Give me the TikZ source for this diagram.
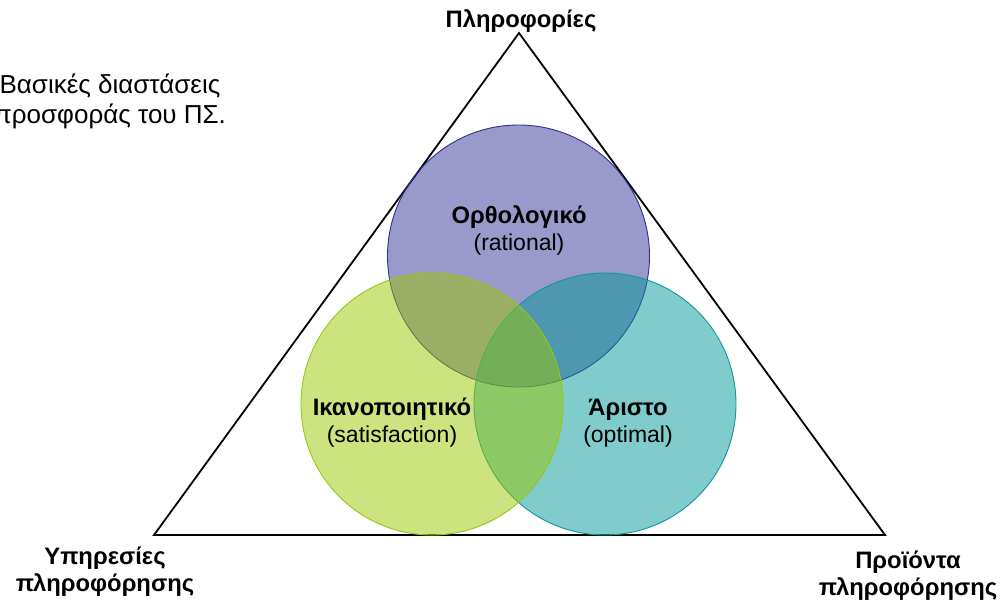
\documentclass[tikz,border=0pt]{standalone}
\usepackage{fontspec}
\setmainfont{Liberation Sans}
\begin{document}
\begin{tikzpicture}[x=1pt,y=-1pt,
  lbl/.style={inner sep=0pt,align=center,font=\fontsize{23}{27}\selectfont},
  head/.style={lbl,font=\fontsize{23.8}{27}\selectfont\bfseries},
  ring/.style={circle,minimum size=262pt,inner sep=0pt,fill opacity=0.5,line width=0.9pt},
  edge/.style={line width=1.8pt,line join=miter}]
\definecolor{purplefill}{RGB}{53,51,153}
\definecolor{purpleline}{RGB}{48,48,140}
\definecolor{tealfill}{RGB}{1,151,151}
\definecolor{tealline}{RGB}{20,150,160}
\definecolor{greenfill}{RGB}{155,199,1}
\definecolor{greenline}{RGB}{150,200,20}
\useasboundingbox (0,0) rectangle (1003,608);

% outer triangle
\coordinate (apex) at (519,33);
\coordinate (bl) at (154,535);
\coordinate (br) at (885,535);
\draw[edge] (apex) -- (bl) -- (br) -- cycle;

% three overlapping circles
\node[ring,fill=purplefill,draw=purpleline] (rational) at (518.5,256) {};
\node[ring,fill=tealfill,draw=tealline] (optimal) at (605,404) {};
\node[ring,fill=greenfill,draw=greenline] (satisf) at (432,404) {};

% circle labels
\node[lbl] (lr) at (519,230) {{\bfseries\fontsize{23.8}{27}\selectfont Ορθολογικό}\\(rational)};
\node[lbl] (ls) at (392,423) {{\bfseries\fontsize{23.8}{27}\selectfont Ικανοποιητικό}\\(satisfaction)};
\node[lbl] (lo) at (628,423) {{\bfseries\fontsize{23.8}{27}\selectfont Άριστο}\\(optimal)};

% corner labels
\node[head] (ltop) at (521,21) {Πληροφορίες};
\node[head] (lleft) at (105,572) {Υπηρεσίες\\πληροφόρησης};
\node[head] (lright) at (908,576) {Προϊόντα\\πληροφόρησης};

% caption
\node[lbl,font=\fontsize{26}{30}\selectfont] (cap) at (110,101) {Βασικές διαστάσεις\\προσφοράς του ΠΣ.};
\end{tikzpicture}
\end{document}
